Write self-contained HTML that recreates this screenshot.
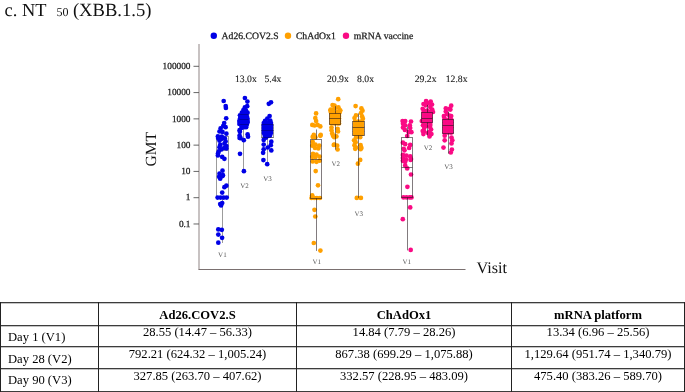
<!DOCTYPE html>
<html><head><meta charset="utf-8"><style>
html,body{margin:0;padding:0;background:#fff;width:685px;height:392px;overflow:hidden;position:relative;}
.hl{position:absolute;left:0;width:685px;height:1px;background:#3c3c3c;box-shadow:0 1px 0 #c4c4c4;}
.vl2{position:absolute;top:302px;width:1px;height:90px;background:#222;}
.tx{position:absolute;font-family:"Liberation Serif",serif;font-size:12.6px;line-height:14px;color:#000;white-space:nowrap;}
</style></head><body>
<svg width="685" height="300" viewBox="0 0 685 300" style="position:absolute;left:0;top:0;will-change:transform">
<style>
text{font-family:"Liberation Serif",serif;text-rendering:geometricPrecision;}
.tk{font-size:9.3px;fill:#1a1a1a;stroke:#1a1a1a;stroke-width:0.25px;}
.lg{font-size:9.7px;fill:#1a1a1a;stroke:#1a1a1a;stroke-width:0.25px;}
.fd{font-size:9.7px;fill:#1a1a1a;stroke:#1a1a1a;stroke-width:0.12px;}
.vl{font-size:7px;fill:#555;}
</style>
<text x="4.6" y="16" font-size="18.4" fill="#111">c. NT</text>
<text x="56.6" y="16.1" font-size="12" fill="#111">50</text>
<text x="72.9" y="16" font-size="18.6" fill="#111">(XBB.1.5)</text>
<circle cx="213.8" cy="35.8" r="3.2" fill="#0000e6"/><text x="221.6" y="39.3" class="lg">Ad26.COV2.S</text>
<circle cx="288" cy="35.8" r="3.2" fill="#ffa000"/><text x="295.9" y="39.3" class="lg">ChAdOx1</text>
<circle cx="346" cy="35.8" r="3.2" fill="#fa0a84"/><text x="353.8" y="39.3" class="lg">mRNA vaccine</text>
<line x1="199" y1="44" x2="199" y2="269.5" stroke="#9a9090" stroke-width="1.1"/>
<line x1="198.5" y1="269.5" x2="465.5" y2="269.5" stroke="#7a7070" stroke-width="1.1"/>
<line x1="193.5" y1="66.30" x2="199" y2="66.30" stroke="#555" stroke-width="0.9"/><text x="190.5" y="69.00" text-anchor="end" class="tk">100000</text><line x1="193.5" y1="92.58" x2="199" y2="92.58" stroke="#555" stroke-width="0.9"/><text x="190.5" y="95.28" text-anchor="end" class="tk">10000</text><line x1="193.5" y1="118.86" x2="199" y2="118.86" stroke="#555" stroke-width="0.9"/><text x="190.5" y="121.56" text-anchor="end" class="tk">1000</text><line x1="193.5" y1="145.14" x2="199" y2="145.14" stroke="#555" stroke-width="0.9"/><text x="190.5" y="147.84" text-anchor="end" class="tk">100</text><line x1="193.5" y1="171.42" x2="199" y2="171.42" stroke="#555" stroke-width="0.9"/><text x="190.5" y="174.12" text-anchor="end" class="tk">10</text><line x1="193.5" y1="197.70" x2="199" y2="197.70" stroke="#555" stroke-width="0.9"/><text x="190.5" y="200.40" text-anchor="end" class="tk">1</text><line x1="193.5" y1="223.98" x2="199" y2="223.98" stroke="#555" stroke-width="0.9"/><text x="190.5" y="226.68" text-anchor="end" class="tk">0.1</text>
<text transform="translate(156,149.3) rotate(-90)" text-anchor="middle" font-size="15.5" fill="#111">GMT</text>
<text x="476.6" y="272.8" font-size="16.2" fill="#111">Visit</text>
<text x="235" y="82" class="fd">13.0x</text><text x="264.4" y="82" class="fd">5.4x</text>
<text x="327" y="82" class="fd">20.9x</text><text x="357.1" y="82" class="fd">8.0x</text>
<text x="414.7" y="82" class="fd">29.2x</text><text x="445.7" y="82" class="fd">12.8x</text>
<g stroke="#9c9c9c" stroke-width="1.0" fill="none"><line x1="222.5" y1="136.5" x2="222.5" y2="136.5"/><line x1="222.5" y1="197.5" x2="222.5" y2="243"/><rect x="216.5" y="136.5" width="12.0" height="61.0"/><line x1="216.5" y1="150.5" x2="228.5" y2="150.5"/></g>
<g stroke="#9c9c9c" stroke-width="1.0" fill="none"><line x1="243.5" y1="114.3" x2="243.5" y2="114.5"/><line x1="243.5" y1="124.5" x2="243.5" y2="171.2"/><rect x="239.5" y="114.5" width="9.0" height="10.0"/><line x1="239.5" y1="119.5" x2="248.5" y2="119.5"/></g>
<g stroke="#9c9c9c" stroke-width="1.0" fill="none"><line x1="267.5" y1="124.7" x2="267.5" y2="124.5"/><line x1="267.5" y1="137.5" x2="267.5" y2="164.2"/><rect x="261.5" y="124.5" width="12.0" height="13.0"/><line x1="261.5" y1="130.5" x2="273.5" y2="130.5"/></g>
<circle cx="223.7" cy="101" r="2.35" fill="#0000e6"/><circle cx="225.7" cy="106" r="2.35" fill="#0000e6"/><circle cx="225.9" cy="108" r="2.35" fill="#0000e6"/><circle cx="226.2" cy="118.3" r="2.35" fill="#0000e6"/><circle cx="224.2" cy="123" r="2.35" fill="#0000e6"/><circle cx="223.3" cy="125.8" r="2.35" fill="#0000e6"/><circle cx="225.6" cy="127.2" r="2.35" fill="#0000e6"/><circle cx="220.6" cy="128.4" r="2.35" fill="#0000e6"/><circle cx="219.5" cy="131.5" r="2.35" fill="#0000e6"/><circle cx="222.5" cy="131.9" r="2.35" fill="#0000e6"/><circle cx="226.4" cy="133.7" r="2.35" fill="#0000e6"/><circle cx="217.9" cy="136.4" r="2.35" fill="#0000e6"/><circle cx="221.8" cy="136.5" r="2.35" fill="#0000e6"/><circle cx="224.8" cy="138.3" r="2.35" fill="#0000e6"/><circle cx="218.3" cy="138.5" r="2.35" fill="#0000e6"/><circle cx="221.8" cy="138.8" r="2.35" fill="#0000e6"/><circle cx="219.5" cy="140.7" r="2.35" fill="#0000e6"/><circle cx="225.6" cy="141.4" r="2.35" fill="#0000e6"/><circle cx="224.4" cy="143.7" r="2.35" fill="#0000e6"/><circle cx="220.2" cy="144.9" r="2.35" fill="#0000e6"/><circle cx="226.4" cy="146" r="2.35" fill="#0000e6"/><circle cx="219.5" cy="147.2" r="2.35" fill="#0000e6"/><circle cx="224.1" cy="148" r="2.35" fill="#0000e6"/><circle cx="226.4" cy="148.5" r="2.35" fill="#0000e6"/><circle cx="221.4" cy="149.5" r="2.35" fill="#0000e6"/><circle cx="218.7" cy="151.4" r="2.35" fill="#0000e6"/><circle cx="218" cy="153.5" r="2.35" fill="#0000e6"/><circle cx="217.9" cy="155.4" r="2.35" fill="#0000e6"/><circle cx="222.2" cy="156.9" r="2.35" fill="#0000e6"/><circle cx="224.4" cy="158.8" r="2.35" fill="#0000e6"/><circle cx="222.5" cy="170.7" r="2.35" fill="#0000e6"/><circle cx="219.5" cy="173.7" r="2.35" fill="#0000e6"/><circle cx="222.9" cy="175.2" r="2.35" fill="#0000e6"/><circle cx="219.1" cy="176.8" r="2.35" fill="#0000e6"/><circle cx="220.2" cy="178.7" r="2.35" fill="#0000e6"/><circle cx="222.5" cy="176.1" r="2.35" fill="#0000e6"/><circle cx="226.4" cy="185.7" r="2.35" fill="#0000e6"/><circle cx="224.4" cy="187.2" r="2.35" fill="#0000e6"/><circle cx="222.2" cy="192.6" r="2.35" fill="#0000e6"/><circle cx="217.6" cy="197.6" r="2.35" fill="#0000e6"/><circle cx="220.6" cy="197.6" r="2.35" fill="#0000e6"/><circle cx="223.7" cy="197.6" r="2.35" fill="#0000e6"/><circle cx="226.7" cy="197.6" r="2.35" fill="#0000e6"/><circle cx="222.2" cy="203" r="2.35" fill="#0000e6"/><circle cx="220.2" cy="204.1" r="2.35" fill="#0000e6"/><circle cx="221.1" cy="205.5" r="2.35" fill="#0000e6"/><circle cx="218.3" cy="229.4" r="2.35" fill="#0000e6"/><circle cx="221.8" cy="229.8" r="2.35" fill="#0000e6"/><circle cx="218.3" cy="234.6" r="2.35" fill="#0000e6"/><circle cx="222.1" cy="237.8" r="2.35" fill="#0000e6"/><circle cx="218.3" cy="242.7" r="2.35" fill="#0000e6"/><circle cx="244.07399999999998" cy="113.3" r="2.35" fill="#0000e6"/><circle cx="242.27" cy="114" r="2.35" fill="#0000e6"/><circle cx="245.55" cy="114.5" r="2.35" fill="#0000e6"/><circle cx="243.91" cy="117" r="2.35" fill="#0000e6"/><circle cx="241.04" cy="117" r="2.35" fill="#0000e6"/><circle cx="239.4" cy="124" r="2.35" fill="#0000e6"/><circle cx="241.45" cy="125.2" r="2.35" fill="#0000e6"/><circle cx="246.78" cy="124.8" r="2.35" fill="#0000e6"/><circle cx="244.2" cy="127.2" r="2.35" fill="#0000e6"/><circle cx="240.6" cy="138.2" r="2.35" fill="#0000e6"/><circle cx="244.9" cy="98" r="2.35" fill="#0000e6"/><circle cx="247.4" cy="101.6" r="2.35" fill="#0000e6"/><circle cx="247.2" cy="106.2" r="2.35" fill="#0000e6"/><circle cx="244.9" cy="107.3" r="2.35" fill="#0000e6"/><circle cx="243.418" cy="110" r="2.35" fill="#0000e6"/><circle cx="245.87800000000001" cy="110.4" r="2.35" fill="#0000e6"/><circle cx="241.86" cy="112.7" r="2.35" fill="#0000e6"/><circle cx="247.518" cy="112.7" r="2.35" fill="#0000e6"/><circle cx="239.974" cy="115.3" r="2.35" fill="#0000e6"/><circle cx="243.746" cy="115.3" r="2.35" fill="#0000e6"/><circle cx="246.862" cy="116.5" r="2.35" fill="#0000e6"/><circle cx="239.974" cy="118.8" r="2.35" fill="#0000e6"/><circle cx="242.434" cy="118.8" r="2.35" fill="#0000e6"/><circle cx="244.976" cy="118.8" r="2.35" fill="#0000e6"/><circle cx="247.518" cy="118.8" r="2.35" fill="#0000e6"/><circle cx="239.318" cy="121.1" r="2.35" fill="#0000e6"/><circle cx="241.86" cy="121.1" r="2.35" fill="#0000e6"/><circle cx="244.976" cy="121.1" r="2.35" fill="#0000e6"/><circle cx="247.518" cy="121.1" r="2.35" fill="#0000e6"/><circle cx="239.974" cy="122.6" r="2.35" fill="#0000e6"/><circle cx="242.434" cy="122.6" r="2.35" fill="#0000e6"/><circle cx="244.976" cy="122.6" r="2.35" fill="#0000e6"/><circle cx="247.518" cy="122.6" r="2.35" fill="#0000e6"/><circle cx="241.20399999999998" cy="124.5" r="2.35" fill="#0000e6"/><circle cx="243.746" cy="124.5" r="2.35" fill="#0000e6"/><circle cx="246.20600000000002" cy="124.5" r="2.35" fill="#0000e6"/><circle cx="246.1" cy="127.2" r="2.35" fill="#0000e6"/><circle cx="241.5" cy="127.9" r="2.35" fill="#0000e6"/><circle cx="239.6" cy="130.2" r="2.35" fill="#0000e6"/><circle cx="239.9" cy="131.8" r="2.35" fill="#0000e6"/><circle cx="247.6" cy="134.4" r="2.35" fill="#0000e6"/><circle cx="248" cy="136.7" r="2.35" fill="#0000e6"/><circle cx="239.6" cy="135.6" r="2.35" fill="#0000e6"/><circle cx="239.6" cy="137.9" r="2.35" fill="#0000e6"/><circle cx="243.8" cy="140.2" r="2.35" fill="#0000e6"/><circle cx="240" cy="153.8" r="2.35" fill="#0000e6"/><circle cx="243.9" cy="171.2" r="2.35" fill="#0000e6"/><circle cx="268.8" cy="103.8" r="2.35" fill="#0000e6"/><circle cx="271" cy="102.3" r="2.35" fill="#0000e6"/><circle cx="269.6" cy="116" r="2.35" fill="#0000e6"/><circle cx="267.3" cy="118.7" r="2.35" fill="#0000e6"/><circle cx="265.05" cy="120.8" r="2.35" fill="#0000e6"/><circle cx="270.27000000000004" cy="120.6" r="2.35" fill="#0000e6"/><circle cx="263.7" cy="139.9" r="2.35" fill="#0000e6"/><circle cx="271.3" cy="141.7" r="2.35" fill="#0000e6"/><circle cx="263.7" cy="144.6" r="2.35" fill="#0000e6"/><circle cx="270.8" cy="145.2" r="2.35" fill="#0000e6"/><circle cx="267.8" cy="147.5" r="2.35" fill="#0000e6"/><circle cx="263.7" cy="149.3" r="2.35" fill="#0000e6"/><circle cx="271.3" cy="150.4" r="2.35" fill="#0000e6"/><circle cx="263.1" cy="152.8" r="2.35" fill="#0000e6"/><circle cx="263.4" cy="160.1" r="2.35" fill="#0000e6"/><circle cx="267.2" cy="164.2" r="2.35" fill="#0000e6"/><circle cx="263.78999999999996" cy="123" r="2.35" fill="#0000e6"/><circle cx="266.13" cy="123" r="2.35" fill="#0000e6"/><circle cx="268.56" cy="123" r="2.35" fill="#0000e6"/><circle cx="270.99" cy="123" r="2.35" fill="#0000e6"/><circle cx="263.78999999999996" cy="125.5" r="2.35" fill="#0000e6"/><circle cx="266.13" cy="125.5" r="2.35" fill="#0000e6"/><circle cx="268.56" cy="125.5" r="2.35" fill="#0000e6"/><circle cx="270.99" cy="125.5" r="2.35" fill="#0000e6"/><circle cx="263.78999999999996" cy="128" r="2.35" fill="#0000e6"/><circle cx="266.13" cy="128" r="2.35" fill="#0000e6"/><circle cx="268.56" cy="128" r="2.35" fill="#0000e6"/><circle cx="270.99" cy="128" r="2.35" fill="#0000e6"/><circle cx="263.78999999999996" cy="130.5" r="2.35" fill="#0000e6"/><circle cx="266.13" cy="130.5" r="2.35" fill="#0000e6"/><circle cx="268.56" cy="130.5" r="2.35" fill="#0000e6"/><circle cx="270.99" cy="130.5" r="2.35" fill="#0000e6"/><circle cx="263.78999999999996" cy="133" r="2.35" fill="#0000e6"/><circle cx="266.13" cy="133" r="2.35" fill="#0000e6"/><circle cx="268.56" cy="133" r="2.35" fill="#0000e6"/><circle cx="270.99" cy="133" r="2.35" fill="#0000e6"/><circle cx="264.78" cy="135.8" r="2.35" fill="#0000e6"/><circle cx="267.48" cy="136" r="2.35" fill="#0000e6"/><circle cx="270.0" cy="135.6" r="2.35" fill="#0000e6"/><circle cx="266.13" cy="137.6" r="2.35" fill="#0000e6"/>
<g stroke="rgba(0,0,0,0.28)" stroke-width="1.0"><line x1="239.5" y1="114.5" x2="248.5" y2="114.5"/><line x1="239.5" y1="119.5" x2="248.5" y2="119.5"/><line x1="239.5" y1="124.5" x2="248.5" y2="124.5"/></g>
<g stroke="rgba(0,0,0,0.28)" stroke-width="1.0"><line x1="261.5" y1="124.5" x2="273.5" y2="124.5"/><line x1="261.5" y1="130.5" x2="273.5" y2="130.5"/><line x1="261.5" y1="137.5" x2="273.5" y2="137.5"/></g>
<circle cx="316.1" cy="113.4" r="2.35" fill="#ffa000"/><circle cx="315.3" cy="118" r="2.35" fill="#ffa000"/><circle cx="316.1" cy="121" r="2.35" fill="#ffa000"/><circle cx="312.3" cy="124.9" r="2.35" fill="#ffa000"/><circle cx="314.5" cy="125.5" r="2.35" fill="#ffa000"/><circle cx="317.6" cy="124.9" r="2.35" fill="#ffa000"/><circle cx="320.3" cy="126.4" r="2.35" fill="#ffa000"/><circle cx="313.8" cy="134.9" r="2.35" fill="#ffa000"/><circle cx="320.7" cy="134.9" r="2.35" fill="#ffa000"/><circle cx="312.7" cy="136.9" r="2.35" fill="#ffa000"/><circle cx="315.3" cy="137.3" r="2.35" fill="#ffa000"/><circle cx="320.3" cy="135.8" r="2.35" fill="#ffa000"/><circle cx="312.7" cy="141.9" r="2.35" fill="#ffa000"/><circle cx="312.3" cy="145.7" r="2.35" fill="#ffa000"/><circle cx="315.3" cy="144.6" r="2.35" fill="#ffa000"/><circle cx="319.2" cy="145.7" r="2.35" fill="#ffa000"/><circle cx="318.4" cy="148.4" r="2.35" fill="#ffa000"/><circle cx="315" cy="148" r="2.35" fill="#ffa000"/><circle cx="313" cy="153.8" r="2.35" fill="#ffa000"/><circle cx="316.5" cy="154.5" r="2.35" fill="#ffa000"/><circle cx="319.6" cy="156.5" r="2.35" fill="#ffa000"/><circle cx="312.3" cy="156.8" r="2.35" fill="#ffa000"/><circle cx="315.3" cy="157.2" r="2.35" fill="#ffa000"/><circle cx="312.7" cy="161.4" r="2.35" fill="#ffa000"/><circle cx="316.5" cy="161.8" r="2.35" fill="#ffa000"/><circle cx="319.6" cy="160.7" r="2.35" fill="#ffa000"/><circle cx="315.7" cy="171.1" r="2.35" fill="#ffa000"/><circle cx="318" cy="185.3" r="2.35" fill="#ffa000"/><circle cx="312.2" cy="195.3" r="2.35" fill="#ffa000"/><circle cx="311.5" cy="198" r="2.35" fill="#ffa000"/><circle cx="314.2" cy="198" r="2.35" fill="#ffa000"/><circle cx="316.8" cy="198" r="2.35" fill="#ffa000"/><circle cx="319.9" cy="198" r="2.35" fill="#ffa000"/><circle cx="314.5" cy="209.8" r="2.35" fill="#ffa000"/><circle cx="315.3" cy="216.5" r="2.35" fill="#ffa000"/><circle cx="313.8" cy="243" r="2.35" fill="#ffa000"/><circle cx="320.4" cy="250.6" r="2.35" fill="#ffa000"/><circle cx="338.2" cy="99.2" r="2.35" fill="#ffa000"/><circle cx="335" cy="108" r="2.35" fill="#ffa000"/><circle cx="333" cy="111" r="2.35" fill="#ffa000"/><circle cx="337.5" cy="111.5" r="2.35" fill="#ffa000"/><circle cx="331" cy="112.5" r="2.35" fill="#ffa000"/><circle cx="339.5" cy="112.5" r="2.35" fill="#ffa000"/><circle cx="334.5" cy="105.5" r="2.35" fill="#ffa000"/><circle cx="330.4" cy="110.5" r="2.35" fill="#ffa000"/><circle cx="340.3" cy="110.5" r="2.35" fill="#ffa000"/><circle cx="332.6" cy="105" r="2.35" fill="#ffa000"/><circle cx="338.4" cy="107.3" r="2.35" fill="#ffa000"/><circle cx="330.7" cy="109.6" r="2.35" fill="#ffa000"/><circle cx="339.9" cy="110.4" r="2.35" fill="#ffa000"/><circle cx="332.6" cy="109.6" r="2.35" fill="#ffa000"/><circle cx="331.5" cy="127.6" r="2.35" fill="#ffa000"/><circle cx="337.6" cy="128.8" r="2.35" fill="#ffa000"/><circle cx="331.5" cy="130.3" r="2.35" fill="#ffa000"/><circle cx="338" cy="131.4" r="2.35" fill="#ffa000"/><circle cx="332.2" cy="133.4" r="2.35" fill="#ffa000"/><circle cx="333" cy="135.7" r="2.35" fill="#ffa000"/><circle cx="336.4" cy="136.4" r="2.35" fill="#ffa000"/><circle cx="334.2" cy="137.2" r="2.35" fill="#ffa000"/><circle cx="334.5" cy="144.5" r="2.35" fill="#ffa000"/><circle cx="333.8" cy="144.9" r="2.35" fill="#ffa000"/><circle cx="337.2" cy="145.7" r="2.35" fill="#ffa000"/><circle cx="337.6" cy="149.5" r="2.35" fill="#ffa000"/><circle cx="331.5" cy="113.5" r="2.35" fill="#ffa000"/><circle cx="334.5" cy="113.5" r="2.35" fill="#ffa000"/><circle cx="337.5" cy="113.5" r="2.35" fill="#ffa000"/><circle cx="339" cy="113.5" r="2.35" fill="#ffa000"/><circle cx="331.5" cy="116" r="2.35" fill="#ffa000"/><circle cx="334.5" cy="116" r="2.35" fill="#ffa000"/><circle cx="337.5" cy="116" r="2.35" fill="#ffa000"/><circle cx="339" cy="116" r="2.35" fill="#ffa000"/><circle cx="331.5" cy="118.5" r="2.35" fill="#ffa000"/><circle cx="334.5" cy="118.5" r="2.35" fill="#ffa000"/><circle cx="337.5" cy="118.5" r="2.35" fill="#ffa000"/><circle cx="339" cy="118.5" r="2.35" fill="#ffa000"/><circle cx="331.5" cy="121" r="2.35" fill="#ffa000"/><circle cx="334.5" cy="121" r="2.35" fill="#ffa000"/><circle cx="337.5" cy="121" r="2.35" fill="#ffa000"/><circle cx="339" cy="121" r="2.35" fill="#ffa000"/><circle cx="331.5" cy="123.5" r="2.35" fill="#ffa000"/><circle cx="334.5" cy="123.5" r="2.35" fill="#ffa000"/><circle cx="337.5" cy="123.5" r="2.35" fill="#ffa000"/><circle cx="339" cy="123.5" r="2.35" fill="#ffa000"/><circle cx="355.6" cy="106.1" r="2.35" fill="#ffa000"/><circle cx="361.4" cy="108.4" r="2.35" fill="#ffa000"/><circle cx="362.5" cy="110.7" r="2.35" fill="#ffa000"/><circle cx="361" cy="113" r="2.35" fill="#ffa000"/><circle cx="356" cy="115.3" r="2.35" fill="#ffa000"/><circle cx="354.5" cy="118" r="2.35" fill="#ffa000"/><circle cx="362.1" cy="116.4" r="2.35" fill="#ffa000"/><circle cx="362.9" cy="118.7" r="2.35" fill="#ffa000"/><circle cx="356" cy="137.6" r="2.35" fill="#ffa000"/><circle cx="360.2" cy="137.2" r="2.35" fill="#ffa000"/><circle cx="354.1" cy="140.3" r="2.35" fill="#ffa000"/><circle cx="355.6" cy="142.2" r="2.35" fill="#ffa000"/><circle cx="354.5" cy="145.2" r="2.35" fill="#ffa000"/><circle cx="360.6" cy="145.2" r="2.35" fill="#ffa000"/><circle cx="356" cy="147.5" r="2.35" fill="#ffa000"/><circle cx="361.4" cy="147.9" r="2.35" fill="#ffa000"/><circle cx="355.2" cy="148.8" r="2.35" fill="#ffa000"/><circle cx="360.6" cy="149.2" r="2.35" fill="#ffa000"/><circle cx="360.2" cy="159.9" r="2.35" fill="#ffa000"/><circle cx="357.9" cy="163.7" r="2.35" fill="#ffa000"/><circle cx="356.8" cy="197.9" r="2.35" fill="#ffa000"/><circle cx="360.9" cy="197.9" r="2.35" fill="#ffa000"/><circle cx="355" cy="121.5" r="2.35" fill="#ffa000"/><circle cx="358" cy="121.5" r="2.35" fill="#ffa000"/><circle cx="361" cy="121.5" r="2.35" fill="#ffa000"/><circle cx="362" cy="121.5" r="2.35" fill="#ffa000"/><circle cx="355" cy="124" r="2.35" fill="#ffa000"/><circle cx="358" cy="124" r="2.35" fill="#ffa000"/><circle cx="361" cy="124" r="2.35" fill="#ffa000"/><circle cx="362" cy="124" r="2.35" fill="#ffa000"/><circle cx="355" cy="126.5" r="2.35" fill="#ffa000"/><circle cx="358" cy="126.5" r="2.35" fill="#ffa000"/><circle cx="361" cy="126.5" r="2.35" fill="#ffa000"/><circle cx="362" cy="126.5" r="2.35" fill="#ffa000"/><circle cx="355" cy="129" r="2.35" fill="#ffa000"/><circle cx="358" cy="129" r="2.35" fill="#ffa000"/><circle cx="361" cy="129" r="2.35" fill="#ffa000"/><circle cx="362" cy="129" r="2.35" fill="#ffa000"/><circle cx="355" cy="131.5" r="2.35" fill="#ffa000"/><circle cx="358" cy="131.5" r="2.35" fill="#ffa000"/><circle cx="361" cy="131.5" r="2.35" fill="#ffa000"/><circle cx="362" cy="131.5" r="2.35" fill="#ffa000"/><circle cx="355" cy="134" r="2.35" fill="#ffa000"/><circle cx="358" cy="134" r="2.35" fill="#ffa000"/><circle cx="361" cy="134" r="2.35" fill="#ffa000"/><circle cx="362" cy="134" r="2.35" fill="#ffa000"/>
<circle cx="402.6" cy="121.1" r="2.35" fill="#fa0a84"/><circle cx="405.2" cy="121.1" r="2.35" fill="#fa0a84"/><circle cx="411" cy="121.5" r="2.35" fill="#fa0a84"/><circle cx="403" cy="123.8" r="2.35" fill="#fa0a84"/><circle cx="405.2" cy="125.3" r="2.35" fill="#fa0a84"/><circle cx="409.8" cy="125.3" r="2.35" fill="#fa0a84"/><circle cx="403" cy="127.6" r="2.35" fill="#fa0a84"/><circle cx="410.2" cy="128" r="2.35" fill="#fa0a84"/><circle cx="404.9" cy="129.9" r="2.35" fill="#fa0a84"/><circle cx="411.4" cy="132.2" r="2.35" fill="#fa0a84"/><circle cx="408.7" cy="132.2" r="2.35" fill="#fa0a84"/><circle cx="407.2" cy="136" r="2.35" fill="#fa0a84"/><circle cx="402.9" cy="142.7" r="2.35" fill="#fa0a84"/><circle cx="405.2" cy="144.2" r="2.35" fill="#fa0a84"/><circle cx="410.2" cy="144.9" r="2.35" fill="#fa0a84"/><circle cx="403.7" cy="148.8" r="2.35" fill="#fa0a84"/><circle cx="409.1" cy="148" r="2.35" fill="#fa0a84"/><circle cx="404.5" cy="150.3" r="2.35" fill="#fa0a84"/><circle cx="402.9" cy="154.9" r="2.35" fill="#fa0a84"/><circle cx="406.4" cy="155.7" r="2.35" fill="#fa0a84"/><circle cx="410.2" cy="156.4" r="2.35" fill="#fa0a84"/><circle cx="402.9" cy="158" r="2.35" fill="#fa0a84"/><circle cx="406" cy="159.5" r="2.35" fill="#fa0a84"/><circle cx="411" cy="159.1" r="2.35" fill="#fa0a84"/><circle cx="405.2" cy="161.8" r="2.35" fill="#fa0a84"/><circle cx="402.9" cy="160.8" r="2.35" fill="#fa0a84"/><circle cx="410.6" cy="160" r="2.35" fill="#fa0a84"/><circle cx="405.2" cy="165.4" r="2.35" fill="#fa0a84"/><circle cx="407.2" cy="168.4" r="2.35" fill="#fa0a84"/><circle cx="411" cy="174.5" r="2.35" fill="#fa0a84"/><circle cx="407.4" cy="186.8" r="2.35" fill="#fa0a84"/><circle cx="403.5" cy="197.4" r="2.35" fill="#fa0a84"/><circle cx="406.5" cy="197.4" r="2.35" fill="#fa0a84"/><circle cx="409.5" cy="197.4" r="2.35" fill="#fa0a84"/><circle cx="411.5" cy="197.4" r="2.35" fill="#fa0a84"/><circle cx="410.2" cy="207.4" r="2.35" fill="#fa0a84"/><circle cx="402.8" cy="219.2" r="2.35" fill="#fa0a84"/><circle cx="410.7" cy="249.9" r="2.35" fill="#fa0a84"/><circle cx="423.5" cy="104" r="2.35" fill="#fa0a84"/><circle cx="428" cy="103.2" r="2.35" fill="#fa0a84"/><circle cx="432" cy="104.5" r="2.35" fill="#fa0a84"/><circle cx="424" cy="111" r="2.35" fill="#fa0a84"/><circle cx="427" cy="110.5" r="2.35" fill="#fa0a84"/><circle cx="430" cy="111.5" r="2.35" fill="#fa0a84"/><circle cx="433" cy="112" r="2.35" fill="#fa0a84"/><circle cx="426" cy="126" r="2.35" fill="#fa0a84"/><circle cx="424.2" cy="131.5" r="2.35" fill="#fa0a84"/><circle cx="430" cy="127" r="2.35" fill="#fa0a84"/><circle cx="428" cy="133" r="2.35" fill="#fa0a84"/><circle cx="421.8" cy="121" r="2.35" fill="#fa0a84"/><circle cx="426.1" cy="101.1" r="2.35" fill="#fa0a84"/><circle cx="430.7" cy="101.5" r="2.35" fill="#fa0a84"/><circle cx="425.7" cy="105.3" r="2.35" fill="#fa0a84"/><circle cx="430.3" cy="106.9" r="2.35" fill="#fa0a84"/><circle cx="422.7" cy="108.8" r="2.35" fill="#fa0a84"/><circle cx="432.2" cy="109.5" r="2.35" fill="#fa0a84"/><circle cx="423" cy="125.3" r="2.35" fill="#fa0a84"/><circle cx="430.3" cy="124.9" r="2.35" fill="#fa0a84"/><circle cx="424.2" cy="128" r="2.35" fill="#fa0a84"/><circle cx="431.1" cy="129.5" r="2.35" fill="#fa0a84"/><circle cx="422.7" cy="131" r="2.35" fill="#fa0a84"/><circle cx="429.5" cy="131.8" r="2.35" fill="#fa0a84"/><circle cx="423.4" cy="134.1" r="2.35" fill="#fa0a84"/><circle cx="431.4" cy="134.1" r="2.35" fill="#fa0a84"/><circle cx="429.5" cy="136.4" r="2.35" fill="#fa0a84"/><circle cx="423.5" cy="112.5" r="2.35" fill="#fa0a84"/><circle cx="426.5" cy="112.5" r="2.35" fill="#fa0a84"/><circle cx="429.5" cy="112.5" r="2.35" fill="#fa0a84"/><circle cx="430.5" cy="112.5" r="2.35" fill="#fa0a84"/><circle cx="423.5" cy="115" r="2.35" fill="#fa0a84"/><circle cx="426.5" cy="115" r="2.35" fill="#fa0a84"/><circle cx="429.5" cy="115" r="2.35" fill="#fa0a84"/><circle cx="430.5" cy="115" r="2.35" fill="#fa0a84"/><circle cx="423.5" cy="117.5" r="2.35" fill="#fa0a84"/><circle cx="426.5" cy="117.5" r="2.35" fill="#fa0a84"/><circle cx="429.5" cy="117.5" r="2.35" fill="#fa0a84"/><circle cx="430.5" cy="117.5" r="2.35" fill="#fa0a84"/><circle cx="423.5" cy="120" r="2.35" fill="#fa0a84"/><circle cx="426.5" cy="120" r="2.35" fill="#fa0a84"/><circle cx="429.5" cy="120" r="2.35" fill="#fa0a84"/><circle cx="430.5" cy="120" r="2.35" fill="#fa0a84"/><circle cx="423.5" cy="122" r="2.35" fill="#fa0a84"/><circle cx="426.5" cy="122" r="2.35" fill="#fa0a84"/><circle cx="429.5" cy="122" r="2.35" fill="#fa0a84"/><circle cx="430.5" cy="122" r="2.35" fill="#fa0a84"/><circle cx="449.4" cy="108.8" r="2.35" fill="#fa0a84"/><circle cx="449.4" cy="115.7" r="2.35" fill="#fa0a84"/><circle cx="447" cy="114" r="2.35" fill="#fa0a84"/><circle cx="444.3" cy="117.5" r="2.35" fill="#fa0a84"/><circle cx="451.2" cy="105.7" r="2.35" fill="#fa0a84"/><circle cx="445.8" cy="108.4" r="2.35" fill="#fa0a84"/><circle cx="450.4" cy="109.6" r="2.35" fill="#fa0a84"/><circle cx="445.8" cy="111.5" r="2.35" fill="#fa0a84"/><circle cx="443.9" cy="116.1" r="2.35" fill="#fa0a84"/><circle cx="451.2" cy="116.1" r="2.35" fill="#fa0a84"/><circle cx="444.7" cy="135.7" r="2.35" fill="#fa0a84"/><circle cx="451.5" cy="137.6" r="2.35" fill="#fa0a84"/><circle cx="444.7" cy="140.3" r="2.35" fill="#fa0a84"/><circle cx="452.3" cy="140.3" r="2.35" fill="#fa0a84"/><circle cx="451.5" cy="143.4" r="2.35" fill="#fa0a84"/><circle cx="443.5" cy="147.6" r="2.35" fill="#fa0a84"/><circle cx="451.9" cy="149.5" r="2.35" fill="#fa0a84"/><circle cx="450.8" cy="152.5" r="2.35" fill="#fa0a84"/><circle cx="444.5" cy="120" r="2.35" fill="#fa0a84"/><circle cx="447.5" cy="120" r="2.35" fill="#fa0a84"/><circle cx="450.5" cy="120" r="2.35" fill="#fa0a84"/><circle cx="451.5" cy="120" r="2.35" fill="#fa0a84"/><circle cx="444.5" cy="122.5" r="2.35" fill="#fa0a84"/><circle cx="447.5" cy="122.5" r="2.35" fill="#fa0a84"/><circle cx="450.5" cy="122.5" r="2.35" fill="#fa0a84"/><circle cx="451.5" cy="122.5" r="2.35" fill="#fa0a84"/><circle cx="444.5" cy="125" r="2.35" fill="#fa0a84"/><circle cx="447.5" cy="125" r="2.35" fill="#fa0a84"/><circle cx="450.5" cy="125" r="2.35" fill="#fa0a84"/><circle cx="451.5" cy="125" r="2.35" fill="#fa0a84"/><circle cx="444.5" cy="127.5" r="2.35" fill="#fa0a84"/><circle cx="447.5" cy="127.5" r="2.35" fill="#fa0a84"/><circle cx="450.5" cy="127.5" r="2.35" fill="#fa0a84"/><circle cx="451.5" cy="127.5" r="2.35" fill="#fa0a84"/><circle cx="444.5" cy="130" r="2.35" fill="#fa0a84"/><circle cx="447.5" cy="130" r="2.35" fill="#fa0a84"/><circle cx="450.5" cy="130" r="2.35" fill="#fa0a84"/><circle cx="451.5" cy="130" r="2.35" fill="#fa0a84"/><circle cx="444.5" cy="132.5" r="2.35" fill="#fa0a84"/><circle cx="447.5" cy="132.5" r="2.35" fill="#fa0a84"/><circle cx="450.5" cy="132.5" r="2.35" fill="#fa0a84"/><circle cx="451.5" cy="132.5" r="2.35" fill="#fa0a84"/>
<g stroke="rgba(30,20,25,0.56)" stroke-width="1.0" fill="none"><line x1="316.5" y1="129.5" x2="316.5" y2="139.5"/><line x1="316.5" y1="198.5" x2="316.5" y2="250.9"/><rect x="310.5" y="139.5" width="11.0" height="59.0"/><line x1="310.5" y1="159.5" x2="321.5" y2="159.5"/></g>
<g stroke="rgba(30,20,25,0.56)" stroke-width="1.0" fill="none"><line x1="335.5" y1="106.2" x2="335.5" y2="113.5"/><line x1="335.5" y1="124.5" x2="335.5" y2="149.5"/><rect x="329.5" y="113.5" width="11.0" height="11.0"/><line x1="329.5" y1="118.5" x2="340.5" y2="118.5"/></g>
<g stroke="rgba(30,20,25,0.56)" stroke-width="1.0" fill="none"><line x1="358.5" y1="113.4" x2="358.5" y2="121.5"/><line x1="358.5" y1="135.5" x2="358.5" y2="197.8"/><rect x="352.5" y="121.5" width="12.0" height="14.0"/><line x1="352.5" y1="127.5" x2="364.5" y2="127.5"/></g>
<g stroke="rgba(30,20,25,0.56)" stroke-width="1.0" fill="none"><line x1="407.5" y1="126.4" x2="407.5" y2="137.5"/><line x1="407.5" y1="197.5" x2="407.5" y2="250.4"/><rect x="401.5" y="137.5" width="11.0" height="60.0"/><line x1="401.5" y1="167.5" x2="412.5" y2="167.5"/></g>
<g stroke="rgba(30,20,25,0.56)" stroke-width="1.0" fill="none"><line x1="427.5" y1="104.9" x2="427.5" y2="112.5"/><line x1="427.5" y1="122.5" x2="427.5" y2="135.6"/><rect x="421.5" y="112.5" width="11.0" height="10.0"/><line x1="421.5" y1="118.5" x2="432.5" y2="118.5"/></g>
<g stroke="rgba(30,20,25,0.56)" stroke-width="1.0" fill="none"><line x1="448.5" y1="111.5" x2="448.5" y2="119.5"/><line x1="448.5" y1="133.5" x2="448.5" y2="153.7"/><rect x="442.5" y="119.5" width="11.0" height="14.0"/><line x1="442.5" y1="125.5" x2="453.5" y2="125.5"/></g>
<g class="vl" text-anchor="middle">
<text x="222.4" y="257.3" class="vl">V1</text><text x="244.5" y="188.4" class="vl">V2</text><text x="267.6" y="180.5" class="vl">V3</text>
<text x="316.7" y="264.1" class="vl">V1</text><text x="335.7" y="166.3" class="vl">V2</text><text x="358.8" y="216.2" class="vl">V3</text>
<text x="406.7" y="264.1" class="vl">V1</text><text x="428" y="149.8" class="vl">V2</text><text x="448.5" y="169.1" class="vl">V3</text>
</g>
</svg>
<div class="tb" style="position:absolute;left:0;top:0;width:685px;height:392px;will-change:transform"><div class="hl" style="top:302px"></div><div class="hl" style="top:325px"></div><div class="hl" style="top:346px"></div><div class="hl" style="top:368px"></div><div class="hl" style="top:391px"></div><div class="vl2" style="left:0px"></div><div class="vl2" style="left:98px"></div><div class="vl2" style="left:296px"></div><div class="vl2" style="left:511px"></div><div class="vl2" style="left:684px"></div><div class="tx" style="left:99px;width:197px;text-align:center;top:307.65px"><b>Ad26.COV2.S</b></div><div class="tx" style="left:297px;width:214px;text-align:center;top:307.65px"><b>ChAdOx1</b></div><div class="tx" style="left:512px;width:172px;text-align:center;top:307.65px"><b>mRNA platform</b></div><div class="tx" style="left:8px;top:329.55px">Day 1 (V1)</div><div class="tx" style="left:99px;width:197px;text-align:center;top:325.05px">28.55 (14.47 – 56.33)</div><div class="tx" style="left:297px;width:214px;text-align:center;top:325.05px">14.84 (7.79 – 28.26)</div><div class="tx" style="left:512px;width:172px;text-align:center;top:325.05px">13.34 (6.96 – 25.56)</div><div class="tx" style="left:8px;top:351.75px">Day 28 (V2)</div><div class="tx" style="left:99px;width:197px;text-align:center;top:347.35px">792.21 (624.32 – 1,005.24)</div><div class="tx" style="left:297px;width:214px;text-align:center;top:347.35px">867.38 (699.29 – 1,075.88)</div><div class="tx" style="left:512px;width:172px;text-align:center;top:347.35px">1,129.64 (951.74 – 1,340.79)</div><div class="tx" style="left:8px;top:372.85px">Day 90 (V3)</div><div class="tx" style="left:99px;width:197px;text-align:center;top:368.55px">327.85 (263.70 – 407.62)</div><div class="tx" style="left:297px;width:214px;text-align:center;top:368.55px">332.57 (228.95 – 483.09)</div><div class="tx" style="left:512px;width:172px;text-align:center;top:368.55px">475.40 (383.26 – 589.70)</div></div>
</body></html>
